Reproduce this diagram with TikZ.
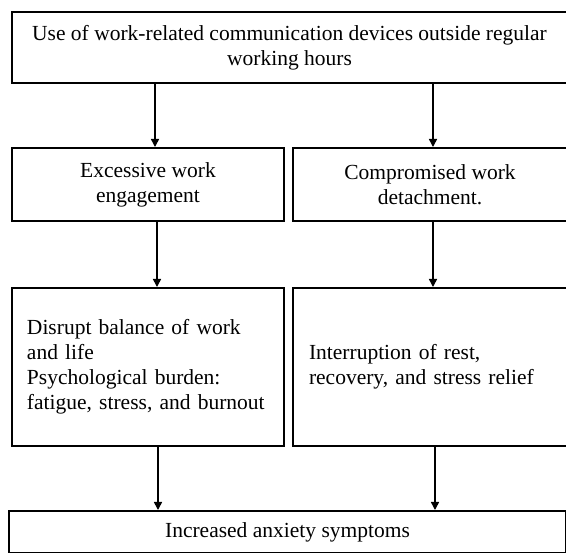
\documentclass[tikz,border=0pt]{standalone}
\usepackage{fontspec}
\setmainfont{Liberation Serif}
\usetikzlibrary{arrows.meta}

\begin{document}
\begin{tikzpicture}[x=1pt, y=-1pt,
    box/.style = {draw, line width=2pt, anchor=north west, inner sep=0pt,
        font=\fontsize{21.5}{25}\selectfont},
    cbox/.style = {box, align=center},
    lbox/.style = {box, align=left, inner xsep=15pt, text width=242pt},
    arr/.style = {-{Triangle[length=8pt,width=8pt]}, line width=1.5pt}]
    \useasboundingbox (0,0) rectangle (566,553);

    \node[cbox, minimum width=555pt, minimum height=71pt] (use) at (11,11)
        {Use of work-related communication devices outside regular\\working hours};
    \node[cbox, minimum width=272pt, minimum height=73pt] (excess) at (11,147)
        {Excessive work\\engagement};
    \node[cbox, minimum width=274pt, minimum height=73pt] (detach) at (292,147)
        {Compromised work\\detachment.};
    \node[lbox, minimum width=272pt, minimum height=158pt] (burden) at (11,287)
        {Disrupt balance of work\\and life\\Psychological burden:\\fatigue, stress, and burnout};
    \node[lbox, minimum width=274pt, minimum height=158pt] (rest) at (292,287)
        {Interruption of rest,\\recovery, and stress relief};
    \node[cbox, minimum width=557pt, minimum height=42pt] (anxiety) at (8,510)
        {Increased anxiety symptoms};

    \draw[arr] (use.south -| 155,0) -- (excess.north -| 155,0);
    \draw[arr] (use.south -| 433,0) -- (detach.north -| 433,0);
    \draw[arr] (excess.south -| 157,0) -- (burden.north -| 157,0);
    \draw[arr] (detach.south -| 433,0) -- (rest.north -| 433,0);
    \draw[arr] (burden.south -| 158,0) -- (anxiety.north -| 158,0);
    \draw[arr] (rest.south -| 435,0) -- (anxiety.north -| 435,0);
\end{tikzpicture}
\end{document}
